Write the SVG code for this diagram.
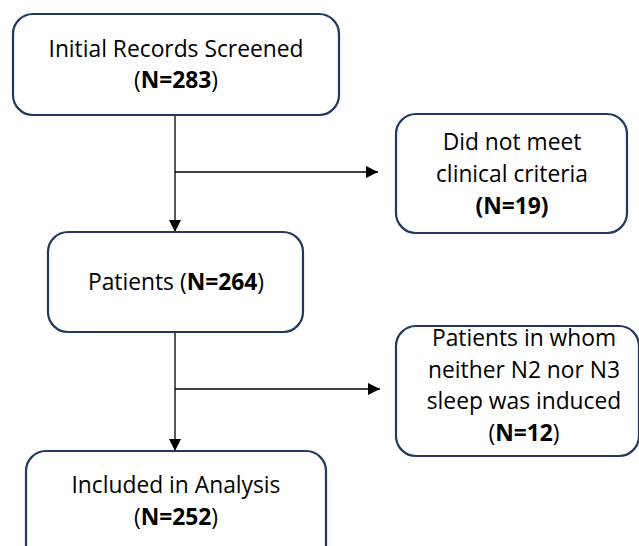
<svg xmlns="http://www.w3.org/2000/svg" width="639" height="546" viewBox="0 0 639 546">
<style>
.box{fill:#fff;stroke:#1f3864;stroke-width:2.2}
.t{font-family:"Open Sans","Liberation Sans",sans-serif;font-size:22.8px;fill:#000;text-anchor:middle}
.b{font-weight:bold}
.c{stroke:#000;stroke-width:1.3;fill:none}
</style>
<defs>
<marker id="ah" viewBox="0 0 12 12" refX="12" refY="6" markerWidth="12" markerHeight="12" markerUnits="userSpaceOnUse" orient="auto">
<path d="M0,0 L12,6 L0,12 Z" fill="#000"/>
</marker>
</defs>
<rect width="639" height="546" fill="#fff"/>
<g id="connectors">
<line class="c" x1="175" y1="115" x2="175" y2="232" marker-end="url(#ah)"/>
<line class="c" x1="175" y1="172" x2="378" y2="172" marker-end="url(#ah)"/>
<line class="c" x1="175" y1="332" x2="175" y2="451" marker-end="url(#ah)"/>
<line class="c" x1="175" y1="389" x2="380" y2="389" marker-end="url(#ah)"/>
</g>
<g id="n1">
<rect class="box" x="13" y="14" width="326" height="101" rx="20"/>
<text class="t" x="176" y="57">Initial Records Screened</text>
<text class="t" x="176" y="88">(<tspan class="b">N=283</tspan>)</text>
</g>
<g id="n2">
<rect class="box" x="396" y="114" width="231" height="119" rx="20"/>
<text class="t" x="512" y="150">Did not meet</text>
<text class="t" x="512" y="182">clinical criteria</text>
<text class="t b" x="512" y="214">(N=19)</text>
</g>
<g id="n3">
<rect class="box" x="48" y="232" width="255" height="100" rx="20"/>
<text class="t" x="176" y="290">Patients (<tspan class="b">N=264</tspan>)</text>
</g>
<g id="n4">
<rect class="box" x="396" y="326" width="243" height="130" rx="20"/>
<text class="t" x="524" y="346">Patients in whom</text>
<text class="t" x="524" y="378">neither N2 nor N3</text>
<text class="t" x="524" y="409">sleep was induced</text>
<text class="t" x="524" y="441">(<tspan class="b">N=12</tspan>)</text>
</g>
<g id="n5">
<rect class="box" x="26" y="451" width="300" height="120" rx="20"/>
<text class="t" x="176" y="493">Included in Analysis</text>
<text class="t" x="176" y="525">(<tspan class="b">N=252</tspan>)</text>
</g>
</svg>
